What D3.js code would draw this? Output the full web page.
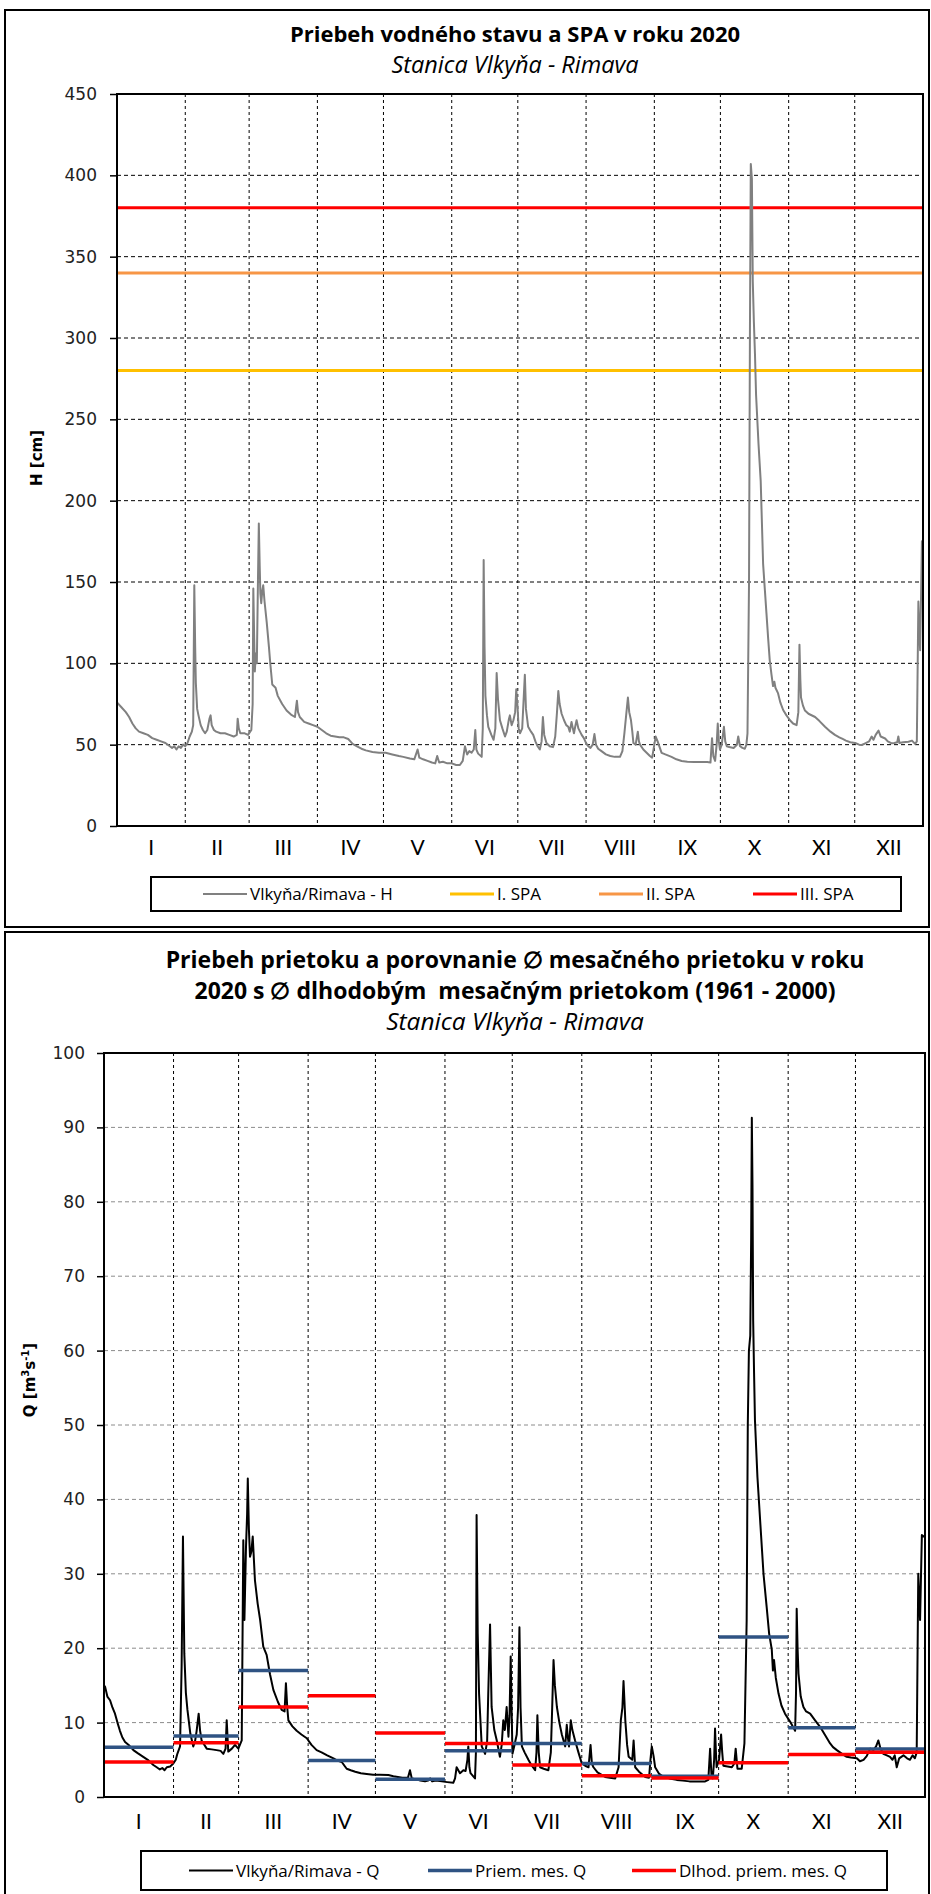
<!DOCTYPE html>
<html>
<head>
<meta charset="utf-8">
<script src="https://cdn.jsdelivr.net/npm/d3@7"></script>
<style>
  body { margin: 0; background: #fff; }
  svg { display: block; }
  text { white-space: pre; }
</style>
</head>
<body>
<svg id="page" width="931" height="1894"></svg>
<script>
// mesiace (rímske číslice)
const months = ["I", "II", "III", "IV", "V", "VI", "VII", "VIII", "IX", "X", "XI", "XII"];

// stupne povodňovej aktivity [cm]
const spaNames = ["I. SPA", "II. SPA", "III. SPA"];
const spaLevels = [280, 340, 380];

// priemerný mesačný prietok 2020 a dlhodobý (1961 - 2000) [m3/s]
const qMonthMean = [6.7, 8.2, 17.0, 4.9, 2.4, 6.2, 7.2, 4.5, 2.8, 21.5, 9.3, 6.45];
const qLongTerm = [4.7, 7.3, 12.1, 13.6, 8.6, 7.2, 4.3, 2.85, 2.55, 4.6, 5.7, 6.0];

const hTicks = [0, 50, 100, 150, 200, 250, 300, 350, 400, 450];
const qTicks = [0, 10, 20, 30, 40, 50, 60, 70, 80, 90, 100];

// vodný stav H [cm] -> [deň v roku, hodnota]
const hLevel = [[0,76],[2,73],[4,70],[5.5,67],[7,63],[8.5,60],[10,58],[12,57],[14,56],[16,54],[18,53],[20,52],[22,51],[24,49],[25,48],[26,49],[27,47],[28,49],[29,48],[30,50],[31,49],[32,51],[33,55],[34,58],[34.6,62],[35.1,148],[35.5,110],[35.8,88],[36.4,72],[37,68],[38,62],[39,59],[40,57],[41,59],[42,66],[42.5,68],[43,62],[44,59],[45,58],[47,57],[49,57],[51,56],[53,55],[54.4,56],[54.8,66],[55.3,60],[56,57],[58,57],[59.5,56],[61,59],[61.6,75],[61.9,146],[62.3,115],[62.6,95],[63,106],[63.5,100],[64,150],[64.4,186],[64.8,160],[65.1,143],[65.5,137],[66,145],[66.4,148],[67,138],[68,125],[69,110],[69.6,100],[70.5,87],[72,85],[73,80],[75,75],[77,71],[79,68.5],[80.8,67],[81.4,74],[81.7,77],[82.2,70],[83,67],[85,64],[87,63],[89,62],[91,61],[93,59],[95,57],[97,55.5],[99,55],[101,54.5],[103,54.5],[105,53.5],[106,52],[107,50.5],[109,49],[111,47.5],[113,46.5],[116,45.5],[119,45],[122,45],[125,44],[128,43],[130,42.5],[133,41.5],[135,41],[136.5,47],[137.3,42],[139,41],[141,40],[143,39],[144.5,38.5],[145.4,43],[146.3,39],[148,39.5],[150,38.5],[152,38.5],[154,37.5],[155.7,37.5],[157,40],[158,49],[159,44],[160,46],[161,45],[162,47],[162.7,59],[163.2,47],[164,44.5],[165.6,42.5],[166.1,60],[166.5,163.5],[166.9,110],[167.3,80],[168,68],[168.6,61],[170,56],[171,53],[171.8,60],[172.4,94],[173,78],[173.9,65],[175,60],[176.2,55],[177,58],[178,66],[178.4,68],[179.2,62],[180,65],[180.8,70],[181.3,84],[181.8,75],[182.4,60],[183,57],[184,60],[185.2,93],[185.7,72],[186.7,61],[188,58],[189,56],[190,52],[191,49],[192,47],[192.8,52],[193.4,67],[194,56],[195,51],[196.5,49],[198,48.5],[199,55],[199.8,70],[200.4,83],[201,75],[201.9,69],[203,65],[204,62],[204.9,61],[205.6,58],[206.4,64],[207,60],[207.5,57],[208.2,62],[208.7,65],[209.5,60],[211,56],[212,54],[213,51],[214,49],[215,48],[216,50],[216.8,56.5],[217.5,50],[218.5,47.5],[220,46],[222,44],[224,43],[226,42.5],[228.4,42.5],[229.5,46],[230.4,57],[231.2,68],[232,79],[232.6,70],[233.4,65],[234,58],[234.5,51],[235.5,50],[236.5,58],[237,52],[237.5,50],[239,47],[240.5,45],[242,43],[243,42],[244,50],[244.6,55],[245.5,52],[246,50],[247.3,45],[249,44],[251.8,42.5],[254,41],[256.4,40],[259,39.5],[262,39.3],[265,39.3],[268,39.3],[269.5,39],[270.2,54],[270.8,43],[271.6,40],[272.3,50],[272.8,63],[273.3,52],[273.8,47],[274.6,50],[275.6,61],[276.2,52],[276.9,49],[278,48.5],[280,48],[281.5,50],[282.1,55],[282.9,49],[284,48],[285.1,47.5],[285.8,50],[286.3,57],[287,150],[287.4,300],[287.8,407],[288.3,398],[288.7,335],[289.2,310],[289.7,290],[290.2,265],[291.3,235],[292.3,212],[293.4,161],[294.2,145],[294.9,131],[295.7,115],[296.4,102],[297.2,93],[297.9,86],[298.5,88.7],[299,85],[300.2,81.5],[301.2,76],[302.5,71.3],[304,68],[305.6,65],[307,63],[308.6,62],[309.4,70],[309.9,111.5],[310.3,90],[310.6,79],[311.5,74],[312.4,71],[314,69],[317,67],[319,64.5],[321.5,61],[324,58],[326,56],[328,54.5],[329.5,53.5],[331,52.5],[333,51.5],[335.2,51],[337,50],[338.2,49.8],[340,51],[341.5,52],[342.7,55],[343.5,53],[344.5,56],[345.8,58.6],[346.8,55],[348.8,53.8],[350,52],[351.8,50.8],[353,51],[354.3,51.5],[354.8,55],[355.3,51],[357,51.5],[359.4,51.8],[361,52.5],[362.4,50.5],[363.2,52],[363.9,138],[364.3,120],[364.7,108],[365.1,140],[365.5,175],[366,175]];

// prietok Q [m3/s] -> [deň v roku, hodnota]
const qFlow = [[0,15],[0.5,14.8],[1.5,13.5],[2.7,13],[3.8,12],[4.9,11.2],[6,10],[7.1,8.9],[8.2,8],[9.4,7.4],[11,7],[13.1,6.3],[15,5.9],[17.5,5.4],[19.5,5],[22,4.3],[23.5,4],[24.9,3.7],[26,3.9],[27,3.6],[28,4],[29.5,4.1],[30.9,4.5],[32,5],[32.7,5.8],[33.9,6.8],[34.6,17.5],[35.2,35],[35.8,19.3],[36.5,14],[37.2,11.7],[38.5,8.5],[39.8,6.8],[40.6,7.5],[41.3,8.9],[42.2,11.2],[42.8,9],[43.5,7.6],[45.8,6.5],[48,6.4],[50.2,6.3],[52,6.2],[53.2,5.8],[54.2,6.5],[54.7,10.3],[55.4,6.1],[57,6.5],[58.4,7.0],[59.9,6.5],[61.4,7.6],[62.1,34.5],[62.6,23.8],[63.3,33.6],[63.8,38],[64.1,42.8],[64.6,36],[65.1,32.3],[65.7,33],[66.3,35],[67.3,29.1],[68.5,26],[69.6,23.8],[71,20.2],[72.5,19.1],[74,16.5],[75.5,14.4],[77.5,12.8],[79.2,11.7],[80.5,11.5],[81.1,15.3],[81.7,12],[82.2,10.3],[84,9.5],[85.9,8.9],[88,8.4],[90.4,7.9],[92.5,7],[94.8,6.3],[97,6],[99.5,5.6],[102.3,5.2],[104,4.9],[106,4.7],[107.2,4.2],[108.2,3.8],[110,3.6],[112,3.4],[114.5,3.2],[117.1,3.1],[120,3.0],[123,3.0],[126.8,2.95],[129,2.8],[131,2.7],[133,2.6],[135.5,2.6],[136.4,3.6],[137.2,2.5],[139,2.4],[141,2.2],[143.1,2.1],[144.5,2.2],[145.4,2.5],[146.3,2.1],[148,2.2],[150.6,2.1],[153,2.0],[155.7,1.9],[156.5,2.5],[157.2,4.0],[158.7,3.2],[160.2,3.6],[161.2,3.5],[162,5],[162.4,6.8],[162.9,4],[163.4,3.2],[165.4,2.5],[165.8,6],[166.1,37.9],[166.6,22],[167.2,13.9],[168.4,6.8],[169.9,5.8],[170.8,7.5],[171.3,13.9],[172.1,23.2],[172.8,12.1],[174,9],[175.1,7.6],[176.5,5.4],[177.3,7],[178,10.3],[178.7,9],[179.5,12.1],[180.3,8.1],[180.8,11],[181.3,18.9],[181.7,12],[182.1,5.8],[183,7],[184,8.4],[184.6,12],[185.2,22.8],[185.7,12],[186.3,6.8],[187.5,6],[189.2,5.0],[190.5,4.3],[192.2,3.6],[192.8,6],[193.2,11],[193.8,6],[194.4,4.0],[196,3.8],[198.1,3.6],[199.2,6],[199.8,12],[200.4,18.4],[201,15],[201.9,12.1],[203,10],[204.1,8.4],[205.6,6.8],[206.3,9.7],[206.8,8],[207.3,6.8],[208.1,10.3],[208.8,9],[210,7.6],[211.5,6],[213,4.5],[214.5,4.2],[216,4.0],[216.9,7.0],[217.5,4.5],[218.2,4.0],[220,3.3],[223.4,2.7],[225.5,2.6],[227.9,2.5],[229.4,4.0],[230.4,10.3],[231.1,12],[231.6,15.6],[232,13],[232.4,10.3],[233.2,7],[233.9,5.4],[235.5,5],[236.1,7.6],[236.8,4.0],[238.5,3.4],[241.3,2.7],[243,2.6],[243.6,5],[244.2,6.8],[245,5.5],[245.7,4.0],[247.5,3.1],[249.4,2.7],[252,2.5],[255.3,2.3],[258,2.2],[261,2.1],[265.7,2.1],[268,2.1],[269.4,2.3],[270.2,6.5],[270.8,3],[271.4,2.5],[272,5],[272.4,9.2],[272.8,6],[273.1,4.0],[274.2,5],[275.1,8.4],[275.6,6],[276.1,4.2],[278,4.1],[279.9,4.0],[281,4.5],[281.6,6.5],[282.4,3.8],[284.3,3.8],[285.5,7.2],[286.5,23.8],[287,50],[287.5,60],[288.1,62],[288.5,75],[288.8,91.3],[289.1,82],[289.4,64],[289.8,57],[290.2,50.6],[291.3,43],[292.5,37.2],[294,30],[295.4,25.6],[296.5,22],[297.7,19.8],[298.2,17],[298.7,18.4],[299.5,16],[300.7,13.9],[302,12.3],[303.6,11.2],[305.9,10.1],[307,9.5],[308.1,8.9],[308.5,14],[308.8,25.3],[309.2,20],[309.6,16.6],[310.6,13.5],[311.8,12.1],[313,11.5],[314.8,11.2],[317,10.3],[319.3,9.4],[321.5,8.3],[323.7,7.2],[325,6.7],[326.7,6.3],[329,5.8],[331.1,5.4],[333,5.3],[335.6,5.2],[337,4.8],[338.6,5.0],[340,5.5],[341.6,6.5],[343,6.3],[344.2,6.8],[345.2,7.6],[346.2,6.5],[347.4,5.8],[349,5.6],[350.4,5.4],[351.5,5.0],[352.5,5.6],[353.4,4.0],[354.5,5.2],[356.4,5.6],[358,5.2],[359.3,5.0],[360.5,5.6],[361.5,5.2],[362.3,6],[363,30],[363.8,23.8],[364.6,35.2],[365.5,35],[366,35]];

const yearStart = new Date(Date.UTC(2020, 0, 1));
const yearEnd = new Date(Date.UTC(2021, 0, 1));
const dayToDate = day => new Date(yearStart.getTime() + day * 864e5);
const monthStarts = d3.utcMonth.range(yearStart, yearEnd);

const titleFont = "'Open Sans', Lato, sans-serif";
const monthFont = "Lato, 'Open Sans', sans-serif";
const tickFont = "'DejaVu Sans', Verdana, sans-serif";

const svg = d3.select("#page");

// ramik okolo grafu
function chartFrame(x0, y0, x1, y1) {
    svg.append("rect")
        .attr("x", x0).attr("y", y0)
        .attr("width", x1 - x0).attr("height", y1 - y0)
        .attr("fill", "#fff")
        .attr("stroke", "#000")
        .attr("stroke-width", 2);
}

// nadpis: tucne riadky + kurzivou podnadpis
function titleLines(lines, cx, firstY, step, boldSize, italicSize) {
    lines.forEach((t, i) => {
        const italic = i === lines.length - 1;
        svg.append("text")
            .attr("x", cx).attr("y", firstY + i * step)
            .attr("text-anchor", "middle")
            .attr("font-family", titleFont)
            .attr("font-size", italic ? italicSize : boldSize)
            .attr("font-weight", italic ? "normal" : "bold")
            .attr("font-style", italic ? "italic" : "normal")
            .attr("fill", "#000")
            .text(t);
    });
}

// spolocna cast oboch grafov: mriezka, osi, mesiace
function plotBase(x, y, ticks, gridColor, padding, monthY) {
    const [left, right] = x.range();
    const [bottom, top] = y.range();
    const g = svg.append("g");

    g.append("g")
        .selectAll("line")
        .data(ticks.filter(t => t > 0 && t < y.domain()[1]))
        .join("line")
        .attr("x1", left).attr("x2", right)
        .attr("y1", d => y(d)).attr("y2", d => y(d))
        .attr("stroke", gridColor)
        .attr("stroke-width", 1)
        .attr("stroke-dasharray", "4,3");

    g.append("g")
        .selectAll("line")
        .data(monthStarts.slice(1))
        .join("line")
        .attr("x1", d => x(d)).attr("x2", d => x(d))
        .attr("y1", top).attr("y2", bottom)
        .attr("stroke", "#000")
        .attr("stroke-width", 1)
        .attr("stroke-dasharray", "3,3");

    const yAxis = g.append("g")
        .attr("transform", `translate(${left},0)`)
        .call(d3.axisLeft(y).tickValues(ticks).tickSize(7).tickPadding(padding));
    yAxis.select(".domain").remove();
    yAxis.selectAll(".tick line").attr("stroke", "#000").attr("stroke-width", 1.5);
    yAxis.selectAll(".tick text")
        .attr("font-family", tickFont)
        .attr("font-size", 17)
        .attr("fill", "#222");

    // mesiace pod osou x
    g.append("g")
        .selectAll("text")
        .data(monthStarts)
        .join("text")
        .attr("x", d => x(new Date((d.getTime() + d3.utcMonth.offset(d, 1).getTime()) / 2)))
        .attr("y", monthY)
        .attr("text-anchor", "middle")
        .attr("font-family", monthFont)
        .attr("font-size", 21)
        .attr("fill", "#000")
        .text((d, i) => months[i]);

    return g;
}

function plotBorder(x, y) {
    const [left, right] = x.range();
    const [bottom, top] = y.range();
    svg.append("rect")
        .attr("x", left).attr("y", top)
        .attr("width", right - left).attr("height", bottom - top)
        .attr("fill", "none")
        .attr("stroke", "#000")
        .attr("stroke-width", 2);
}

function legend(x0, y0, x1, y1, items) {
    svg.append("rect")
        .attr("x", x0).attr("y", y0)
        .attr("width", x1 - x0).attr("height", y1 - y0)
        .attr("fill", "#fff")
        .attr("stroke", "#000")
        .attr("stroke-width", 2);
    const cy = (y0 + y1) / 2;
    items.forEach(it => {
        svg.append("line")
            .attr("x1", it.x).attr("x2", it.x + 44)
            .attr("y1", cy).attr("y2", cy)
            .attr("stroke", it.color)
            .attr("stroke-width", it.width);
        svg.append("text")
            .attr("x", it.x + 47).attr("y", cy + 6)
            .attr("font-family", titleFont)
            .attr("font-size", 17)
            .attr("fill", "#000")
            .text(it.label);
    });
}

// ---------------- graf 1: vodny stav ----------------
chartFrame(5, 10, 929, 927);
titleLines(["Priebeh vodného stavu a SPA v roku 2020", "Stanica Vlkyňa - Rimava"], 515, 42, 31, 22, 23.5);

const xH = d3.scaleUtc().domain([yearStart, yearEnd]).range([117, 923]);
const yH = d3.scaleLinear().domain([0, 450]).range([826, 94]);
plotBase(xH, yH, hTicks, "#000", 13, 855);

const spaColors = ["#FFC000", "#F79646", "#FF0000"];
svg.append("g")
    .selectAll("line")
    .data(spaLevels)
    .join("line")
    .attr("x1", xH.range()[0]).attr("x2", xH.range()[1])
    .attr("y1", d => yH(d)).attr("y2", d => yH(d))
    .attr("stroke", (d, i) => spaColors[i])
    .attr("stroke-width", 3);

svg.append("path")
    .datum(hLevel)
    .attr("fill", "none")
    .attr("stroke", "#808080")
    .attr("stroke-width", 2)
    .attr("stroke-linejoin", "round")
    .attr("d", d3.line().x(d => xH(dayToDate(d[0]))).y(d => yH(d[1])));

plotBorder(xH, yH);

svg.append("text")
    .attr("transform", "translate(42,458) rotate(-90)")
    .attr("text-anchor", "middle")
    .attr("font-family", tickFont)
    .attr("font-size", 15)
    .attr("font-weight", "bold")
    .text("H [cm]");

legend(151, 877, 901, 911, [
    { x: 203, label: "Vlkyňa/Rimava - H", color: "#808080", width: 2 },
    { x: 450, label: spaNames[0], color: spaColors[0], width: 3 },
    { x: 599, label: spaNames[1], color: spaColors[1], width: 3 },
    { x: 753, label: spaNames[2], color: spaColors[2], width: 3 }
]);

// ---------------- graf 2: prietok ----------------
chartFrame(5, 932, 929, 1900);
titleLines([
    "Priebeh prietoku a porovnanie \u2205 mesačného prietoku v roku",
    "2020 s \u2205 dlhodobým  mesačným prietokom (1961 - 2000)",
    "Stanica Vlkyňa - Rimava"
], 515, 968, 31, 23, 24.5);

const xQ = d3.scaleUtc().domain([yearStart, yearEnd]).range([104, 925]);
const yQ = d3.scaleLinear().domain([0, 100]).range([1797, 1053]);
plotBase(xQ, yQ, qTicks, "#8c8c8c", 12, 1829);

svg.append("path")
    .datum(qFlow)
    .attr("fill", "none")
    .attr("stroke", "#000")
    .attr("stroke-width", 2)
    .attr("stroke-linejoin", "round")
    .attr("d", d3.line().x(d => xQ(dayToDate(d[0]))).y(d => yQ(d[1])));

const meanColor = "#2F5383";
const longColor = "#FF0000";
function monthBars(values, color) {
    svg.append("g")
        .selectAll("line")
        .data(values)
        .join("line")
        .attr("x1", (d, i) => xQ(monthStarts[i]))
        .attr("x2", (d, i) => xQ(d3.utcMonth.offset(monthStarts[i], 1)))
        .attr("y1", d => yQ(d)).attr("y2", d => yQ(d))
        .attr("stroke", color)
        .attr("stroke-width", 3.5);
}
monthBars(qMonthMean, meanColor);
monthBars(qLongTerm, longColor);

plotBorder(xQ, yQ);

const qLabel = svg.append("text")
    .attr("transform", "translate(35,1380) rotate(-90)")
    .attr("text-anchor", "middle")
    .attr("font-family", tickFont)
    .attr("font-size", 15)
    .attr("font-weight", "bold");
qLabel.append("tspan").text("Q [m");
qLabel.append("tspan").attr("dy", -6).attr("font-size", 10).text("3");
qLabel.append("tspan").attr("dy", 6).text("s");
qLabel.append("tspan").attr("dy", -6).attr("font-size", 10).text("-1");
qLabel.append("tspan").attr("dy", 6).text("]");

legend(141, 1851, 887, 1890, [
    { x: 189, label: "Vlkyňa/Rimava - Q", color: "#000", width: 2 },
    { x: 428, label: "Priem. mes. Q", color: meanColor, width: 3.5 },
    { x: 632, label: "Dlhod. priem. mes. Q", color: longColor, width: 3.5 }
]);
</script>
</body>
</html>
